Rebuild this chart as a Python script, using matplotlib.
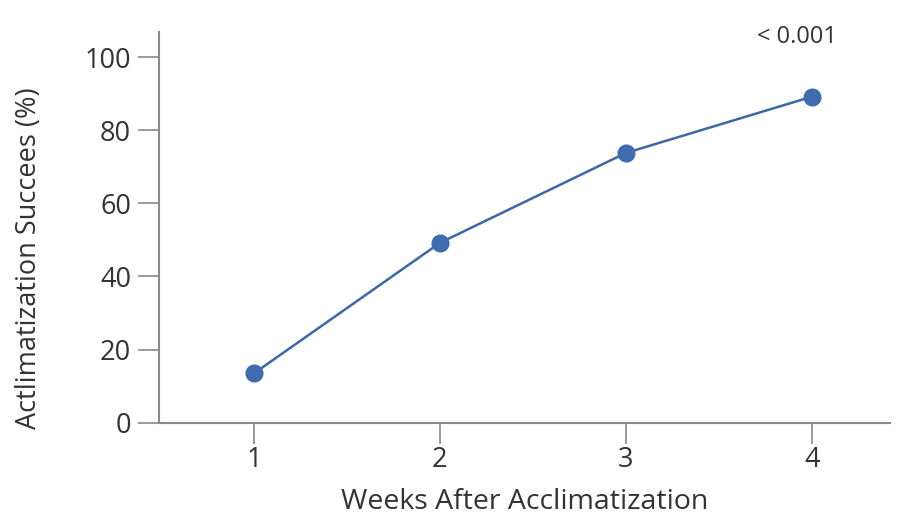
import matplotlib
matplotlib.use('Agg')
import matplotlib.pyplot as plt

weeks = [1, 2, 3, 4]
success = [13.5, 49.2, 73.8, 89.2]
y_ticks = [0, 20, 40, 60, 80, 100]
p_label = '< 0.001'

plt.rcParams['font.family'] = ['Open Sans', 'DejaVu Sans']

fig = plt.figure(figsize=(9.04, 5.21), dpi=100)
ax = fig.add_axes([0.1756, 0.1887, 0.9845 - 0.1756, 0.9386 - 0.1887])

ax.plot(weeks, success, color='#3d68a6', lw=1.8, marker='o', ms=12,
        markerfacecolor='#3f6cae', markeredgecolor='#3f6cae', zorder=3)

ax.set_xlim(0.488, 4.42)
ax.set_ylim(0, 106.9)
ax.set_xticks(weeks)
ax.set_yticks(y_ticks)

for s in ['top', 'right']:
    ax.spines[s].set_visible(False)
for s in ['left', 'bottom']:
    ax.spines[s].set_color('#8a8a8a')
    ax.spines[s].set_linewidth(1.5)

ax.tick_params(axis='both', colors='#8a8a8a', length=15, width=1.2,
               labelcolor='#333333', labelsize=19.5)
ax.tick_params(axis='y', pad=5)
ax.tick_params(axis='x', pad=2)

ax.set_xlabel('Weeks After Acclimatization', fontsize=20.5, color='#333333', labelpad=10)
ax.set_ylabel('Actlimatization Succees (%)', fontsize=19.5, color='#333333')
ax.yaxis.set_label_coords(-0.158, 0.42)

ax.text(3.92, 105.5, p_label, fontsize=17, color='#333333', ha='center', va='center',
        clip_on=False)

fig.savefig('out.png', dpi=100, facecolor='white')
